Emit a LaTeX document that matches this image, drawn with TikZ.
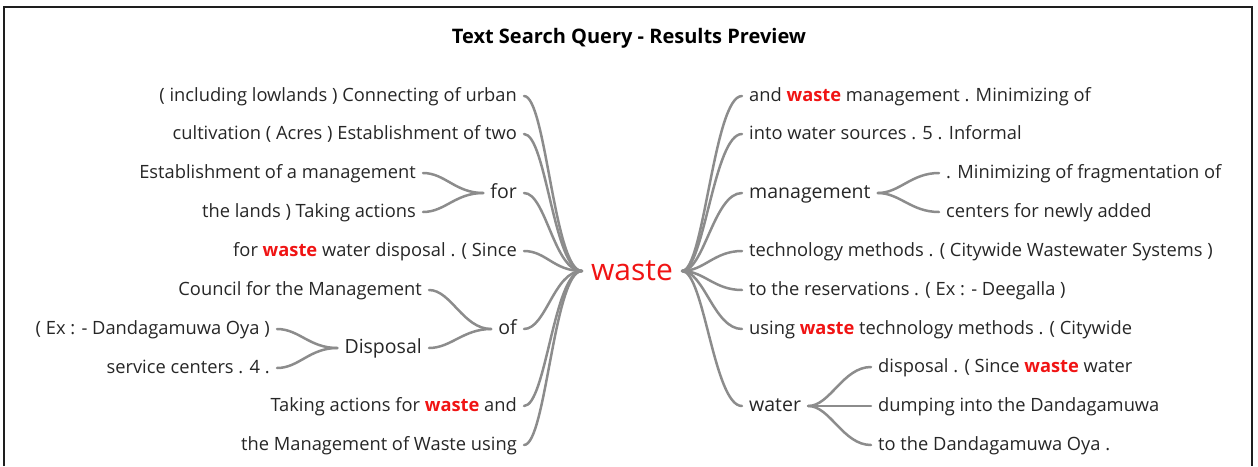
\documentclass[tikz,border=0pt]{standalone}
\usepackage{fontspec}
\setmainfont{Open Sans}
\usetikzlibrary{positioning}
\definecolor{inkgray}{HTML}{262626}
\definecolor{twiggray}{HTML}{8C8C8C}
\definecolor{hitred}{HTML}{F01414}
\definecolor{framegray}{HTML}{1E1E1E}
\newcommand{\hit}[1]{\textcolor{hitred}{\bfseries #1}}

\begin{document}
\begin{tikzpicture}[x=1pt, y=-1pt,
  leaf/.style={font=\fontsize{18.3}{21}\selectfont, text=inkgray, inner xsep=7pt, inner ysep=2pt,
    text height=14pt, text depth=3pt},
  fork/.style={leaf, font=\fontsize{19.5}{22}\selectfont},
  twig/.style={draw=twiggray, line width=2.5pt, line cap=round,
    out=0, in=180, out distance=22pt, in distance=28pt}]

\useasboundingbox (0,0) rectangle (1258,466);

% Frame
\draw[framegray, line width=1.6pt] (4,466) -- (4,7) -- (1252,7) -- (1252,466);

% Title
\node[font=\fontsize{20}{24}\selectfont\bfseries, text=black] (title) at (629,38) {Text Search Query - Results Preview};

% Search word
\node[font=\fontsize{30}{32}\selectfont, text=hitred, inner xsep=9pt] (waste) at (632,271) {waste};

% ========== Left side (words before) ==========
\node[leaf, anchor=east] (l1) at (524,96) {( including lowlands ) Connecting of urban};
\node[leaf, anchor=east] (l2) at (524,134) {cultivation ( Acres ) Establishment of two};
\node[fork, anchor=east] (lfor) at (524,193) {for};
\node[leaf, anchor=east] (lfor1) at (423,173) {Establishment of a management};
\node[leaf, anchor=east] (lfor2) at (423,212) {the lands ) Taking actions};
\node[leaf, anchor=east] (l3) at (524,251) {for \hit{waste} water disposal . ( Since};
\node[fork, anchor=east] (lof) at (524,329) {of};
\node[leaf, anchor=east] (lof1) at (429,290) {Council for the Management};
\node[fork, anchor=east] (ldisp) at (429,348) {Disposal};
\node[leaf, anchor=east] (ldisp1) at (277,329) {( Ex : - Dandagamuwa Oya )};
\node[leaf, anchor=east] (ldisp2) at (277,368) {service centers . 4 .};
\node[leaf, anchor=east] (l4) at (524,406) {Taking actions for \hit{waste} and};
\node[leaf, anchor=east] (l5) at (524,445) {the Management of Waste using};

\foreach \n in {l1,l2,lfor,l3,lof,l4,l5}
  \draw[twig] (\n.east) to (waste.west);
\foreach \n in {lfor1,lfor2}
  \draw[twig] (\n.east) to (lfor.west);
\foreach \n in {lof1,ldisp}
  \draw[twig] (\n.east) to (lof.west);
\foreach \n in {ldisp1,ldisp2}
  \draw[twig] (\n.east) to (ldisp.west);

% ========== Right side (words after) ==========
\node[leaf, anchor=west] (r1) at (742,96) {and \hit{waste} management . Minimizing of};
\node[leaf, anchor=west] (r2) at (742,134) {into water sources . 5 . Informal};
\node[fork, anchor=west] (rmgmt) at (742,193) {management};
\node[leaf, anchor=west] (rmgmt1) at (939,173) {. Minimizing of fragmentation of};
\node[leaf, anchor=west] (rmgmt2) at (939,212) {centers for newly added};
\node[leaf, anchor=west] (r3) at (742,251) {technology methods . ( Citywide Wastewater Systems )};
\node[leaf, anchor=west] (r4) at (742,290) {to the reservations . ( Ex : - Deegalla )};
\node[leaf, anchor=west] (r5) at (742,329) {using \hit{waste} technology methods . ( Citywide};
\node[fork, anchor=west] (rwater) at (742,406) {water};
\node[leaf, anchor=west] (rwater1) at (871,367) {disposal . ( Since \hit{waste} water};
\node[leaf, anchor=west] (rwater2) at (871,406) {dumping into the Dandagamuwa};
\node[leaf, anchor=west] (rwater3) at (871,445) {to the Dandagamuwa Oya .};

\foreach \n in {r1,r2,rmgmt,r3,r4,r5,rwater}
  \draw[twig] (waste.east) to (\n.west);
\foreach \n in {rmgmt1,rmgmt2}
  \draw[twig] (rmgmt.east) to (\n.west);
\foreach \n in {rwater1,rwater2,rwater3}
  \draw[twig] (rwater.east) to (\n.west);

\end{tikzpicture}
\end{document}
